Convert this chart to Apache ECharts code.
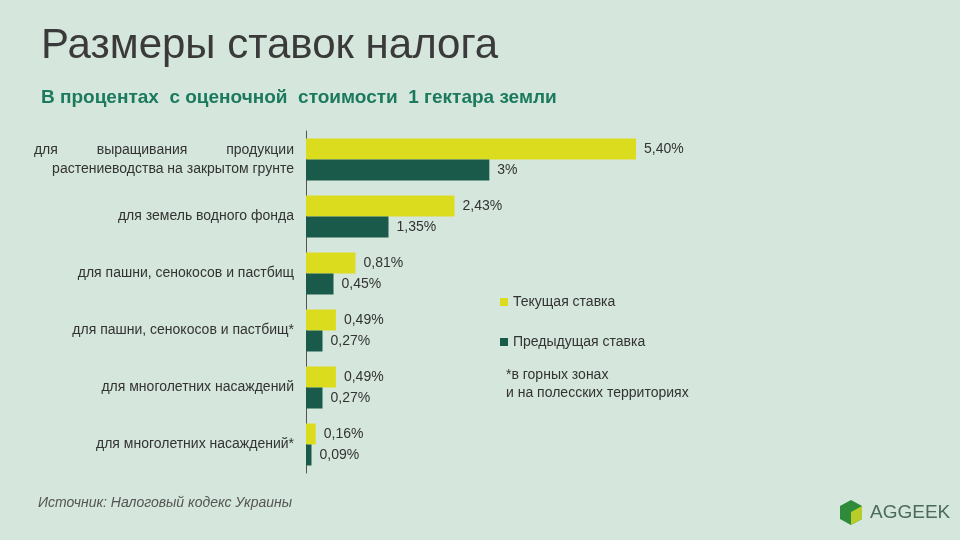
<!DOCTYPE html>
<html><head><meta charset="utf-8">
<script src="https://cdn.jsdelivr.net/npm/echarts@6/dist/echarts.min.js"></script>
<style>html,body{margin:0;background:#d5e6dc}#c{width:960px;height:540px}</style>
</head><body><div id="c"></div>
<script>
const categories = [
  'для          выращивания          продукции\nрастениеводства на закрытом грунте',
  'для земель водного фонда',
  'для пашни, сенокосов и пастбищ',
  'для пашни, сенокосов и пастбищ*',
  'для многолетних насаждений',
  'для многолетних насаждений*'
]
const current = [5.40, 2.43, 0.81, 0.49, 0.49, 0.16]
const previous = [3, 1.35, 0.45, 0.27, 0.27, 0.09]
const currentLabels = ['5,40%', '2,43%', '0,81%', '0,49%', '0,49%', '0,16%']
const previousLabels = ['3%', '1,35%', '0,45%', '0,27%', '0,27%', '0,09%']

const font = 'Arial, "Liberation Sans", sans-serif'
let myChart = echarts.init(document.getElementById('c'))
myChart.setOption({
  backgroundColor: '#d5e6dc',
  textStyle: {fontFamily: font},
  title: [
    {text: 'Размеры ставок налога', left: 36, top: 20,
     textStyle: {fontSize: 42, fontWeight: 'normal', color: '#3a3a3a', fontFamily: font}},
    {text: 'В процентах  с оценочной  стоимости  1 гектара земли', left: 36, top: 83,
     textStyle: {fontSize: 19, fontWeight: 'bold', color: '#1b7a5e', fontFamily: font}}
  ],
  legend: {
    orient: 'vertical', left: 495, top: 290, itemGap: 26, itemWidth: 8, itemHeight: 8,
    icon: 'rect', textStyle: {fontSize: 14, color: '#333'},
    data: ['Текущая ставка', 'Предыдущая ставка']
  },
  grid: {left: 306, top: 131, width: 330, height: 342},
  xAxis: {type: 'value', min: 0, max: 5.4, show: false},
  yAxis: {
    type: 'category', data: categories, inverse: true,
    axisLine: {lineStyle: {color: '#555'}}, axisTick: {show: false},
    axisLabel: {color: '#333', fontSize: 14, margin: 12, lineHeight: 19, align: 'right'}
  },
  series: [
    {name: 'Текущая ставка', type: 'bar', data: current, barWidth: 21, barGap: '0%',
     itemStyle: {color: '#dcdc1e'},
     label: {show: true, position: 'right', color: '#333', fontSize: 14, distance: 8,
       formatter: p => currentLabels[p.dataIndex]}},
    {name: 'Предыдущая ставка', type: 'bar', data: previous, barWidth: 21,
     itemStyle: {color: '#1a5a4a'},
     label: {show: true, position: 'right', color: '#333', fontSize: 14, distance: 8,
       formatter: p => previousLabels[p.dataIndex]}}
  ],
  graphic: [
    {type: 'text', left: 506, top: 366,
     style: {text: '*в горных зонах\nи на полесских территориях', lineHeight: 18, fill: '#333', font: '14px ' + font}},
    {type: 'text', left: 38, top: 496,
     style: {text: 'Источник: Налоговый кодекс Украины', fill: '#555', font: 'italic 14px ' + font}},
    {type: 'polygon', shape: {points: [[851, 500], [862, 506], [862, 519], [851, 525], [840, 519], [840, 506]]},
     style: {fill: '#2e8b3a'}},
    {type: 'polygon', shape: {points: [[851, 512], [862, 506], [862, 519], [851, 525]]},
     style: {fill: '#b8cc2a'}},
    {type: 'text', left: 870, top: 503,
     style: {text: 'AGGEEK', fill: '#4a6a5a', font: '19px ' + font}}
  ]
})
</script></body></html>
